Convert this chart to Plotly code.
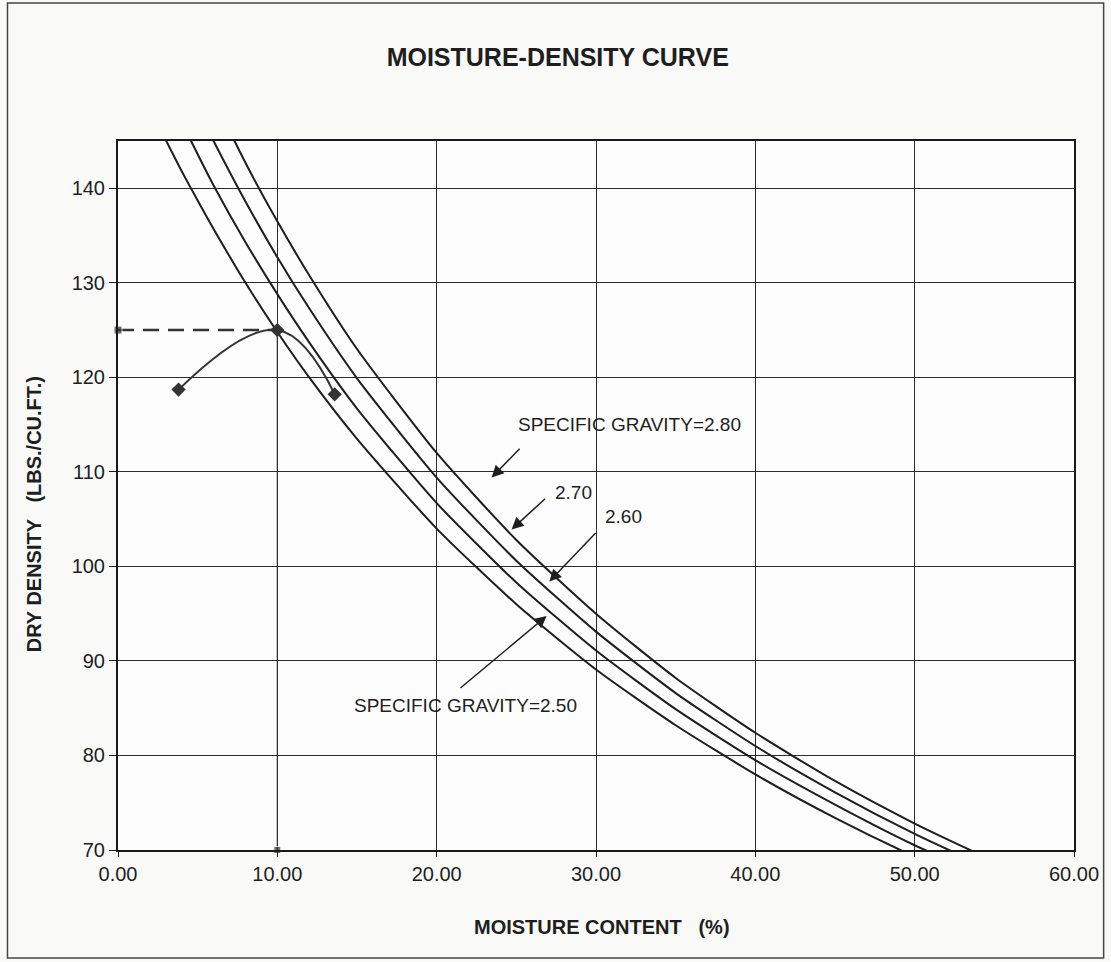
import plotly.graph_objects as go

# Moisture content (%) at which the zero-air-voids curves were read
zav_moisture = [3, 4, 5, 6, 8, 10, 12, 15, 20, 25, 30, 35, 40, 45, 50, 55]
# Dry density (lbs/cu.ft.) for each specific gravity curve
zav_gs250 = [145.1, 141.8, 138.7, 135.7, 130.0, 124.8, 120.0, 113.5, 104.0, 96.0, 89.1, 83.2, 78.0, 73.4, 69.3, 65.7]
zav_gs260 = [150.5, 147.0, 143.6, 140.3, 134.3, 128.8, 123.7, 116.7, 106.7, 98.3, 91.1, 84.9, 79.5, 74.8, 70.5, 66.8]
zav_gs270 = [155.9, 152.1, 148.4, 145.0, 138.6, 132.7, 127.3, 119.9, 109.4, 100.6, 93.1, 86.6, 81.0, 76.1, 71.7, 67.8]
zav_gs280 = [161.2, 157.1, 153.3, 149.6, 142.7, 136.5, 130.8, 123.0, 112.0, 102.8, 95.0, 88.2, 82.4, 77.3, 72.8, 68.8]

# Compaction test points
test_moisture = [3.8, 10.0, 13.6]
test_density = [118.7, 125.0, 118.2]

# Optimum moisture / max dry density guide lines
opt_moisture = 10.0
max_density = 125.0

x_ticks = [0, 10, 20, 30, 40, 50, 60]
y_ticks = [70, 80, 90, 100, 110, 120, 130, 140]

# Labels: (text, text_x, text_y, tail_x, tail_y, head_x, head_y)
labels = [
    ("SPECIFIC GRAVITY=2.80", 25.0, 115.0, 25.3, 112.6, 23.45, 109.4),
    ("2.70", 27.3, 107.8, 26.9, 107.3, 24.7, 103.9),
    ("2.60", 30.45, 105.25, 30.07, 103.7, 27.07, 98.4),
    ("SPECIFIC GRAVITY=2.50", 14.66, 85.25, 21.4, 87.0, 26.9, 94.75),
]

FONT = "Liberation Sans, Arial, sans-serif"
INK = "#1e1e1e"

fig = go.Figure()

for ys in [zav_gs250, zav_gs260, zav_gs270, zav_gs280]:
    fig.add_trace(go.Scatter(x=zav_moisture, y=ys, mode="lines",
                             line=dict(color=INK, width=2, shape="spline", smoothing=0.6),
                             showlegend=False, hoverinfo="skip"))

# guide lines
fig.add_trace(go.Scatter(x=[0, opt_moisture], y=[max_density, max_density], mode="lines+markers",
                         line=dict(color="#333333", width=2.5, dash="16px,9px"),
                         marker=dict(symbol="square", size=[8, 0], color="#333333"),
                         showlegend=False, cliponaxis=False))
fig.add_trace(go.Scatter(x=[opt_moisture, opt_moisture], y=[max_density, 70], mode="lines+markers",
                         line=dict(color="#333333", width=1.2),
                         marker=dict(symbol="square", size=[0, 7], color="#333333"),
                         showlegend=False, cliponaxis=False))

# compaction curve
fig.add_trace(go.Scatter(x=test_moisture, y=test_density, mode="lines+markers",
                         line=dict(color="#333333", width=2, shape="spline", smoothing=1.2),
                         marker=dict(symbol="diamond", size=11, color="#333333"),
                         showlegend=False))

annotations = []
for text, tx, ty, ax, ay, hx, hy in labels:
    annotations.append(dict(x=tx, y=ty, xref="x", yref="y", text=text, showarrow=False,
                            xanchor="left", yanchor="middle",
                            font=dict(family=FONT, size=19, color=INK)))
    annotations.append(dict(x=hx, y=hy, ax=ax, ay=ay, xref="x", yref="y", axref="x", ayref="y",
                            text="", showarrow=True, arrowhead=2, arrowsize=1.6, arrowwidth=1.5,
                            arrowcolor=INK))

annotations.append(dict(text="<b>DRY DENSITY   (LBS./CU.FT.)</b>", xref="paper", yref="paper",
                        x=-0.0875, y=0.474, textangle=-90, showarrow=False,
                        xanchor="center", yanchor="middle",
                        font=dict(family=FONT, size=20, color=INK)))
annotations.append(dict(text="<b>MOISTURE CONTENT   (%)</b>", xref="paper", yref="paper",
                        x=0.506, y=-0.1086, showarrow=False,
                        xanchor="center", yanchor="middle",
                        font=dict(family=FONT, size=20, color=INK)))

fig.update_layout(
    width=1111, height=962,
    margin=dict(l=118, r=33, t=141, b=112),
    paper_bgcolor="#f9f9f8",
    plot_bgcolor="#fdfdfd",
    title=dict(text="<b>MOISTURE-DENSITY CURVE</b>", x=0.502, xref="container", xanchor="center",
               y=1 - 57 / 962, yref="container", yanchor="middle",
               font=dict(family=FONT, size=25, color=INK)),
    annotations=annotations,
    shapes=[dict(type="rect", xref="paper", yref="paper", x0=-0.1156, x1=1.031, y0=-0.1523, y1=1.1946,
                 line=dict(color="#444444", width=1.5), layer="below")],
    font=dict(family=FONT, color=INK),
)

fig.update_xaxes(range=[0, 60], tickvals=x_ticks, tickformat=".2f",
                 showgrid=True, gridcolor="#2a2a2a", gridwidth=1.3,
                 showline=True, linecolor="#1a1a1a", linewidth=2, mirror=True,
                 ticks="outside", ticklen=5, tickcolor="#1a1a1a",
                 tickfont=dict(family=FONT, size=20, color=INK), zeroline=False)
fig.update_yaxes(range=[70, 145], tickvals=y_ticks,
                 showgrid=True, gridcolor="#2a2a2a", gridwidth=1.3,
                 showline=True, linecolor="#1a1a1a", linewidth=2, mirror=True,
                 ticks="outside", ticklen=7, tickcolor="#1a1a1a",
                 tickfont=dict(family=FONT, size=20, color=INK), zeroline=False)

fig.write_html("out.html", config={"displayModeBar": False},
               post_script="document.body.style.margin='0';document.body.style.overflow='hidden';")
